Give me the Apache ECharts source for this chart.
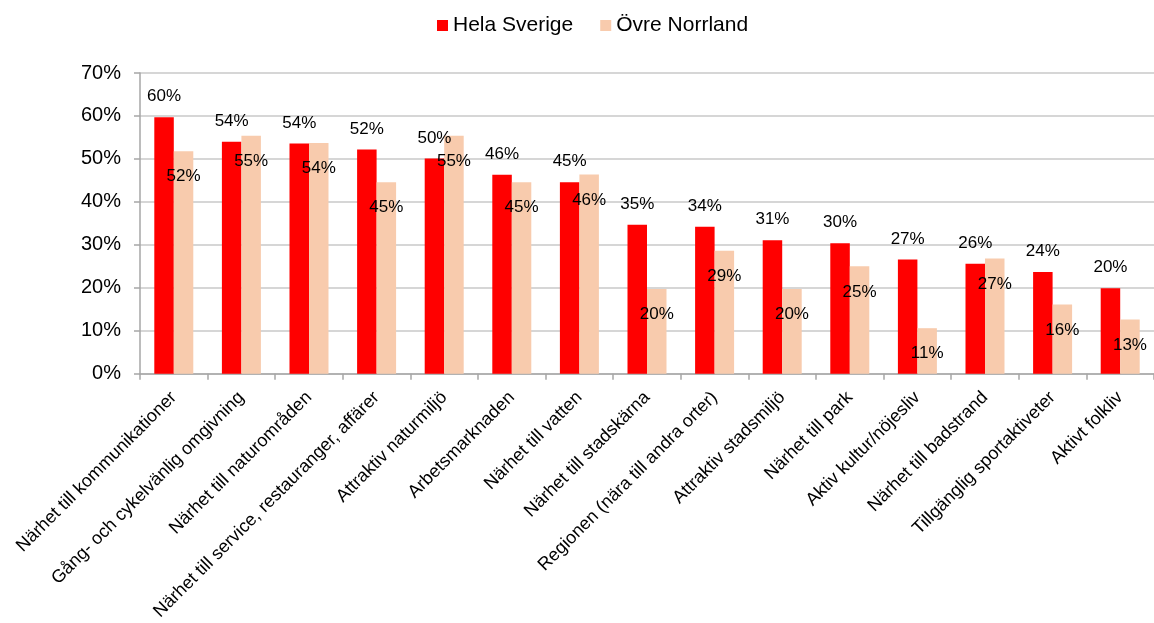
<!DOCTYPE html>
<html>
<head>
<meta charset="utf-8">
<script src="https://cdn.jsdelivr.net/npm/echarts@6/dist/echarts.min.js"></script>
<style>
html,body{margin:0;padding:0;background:#fff;}
#c{width:1154px;height:623px;}
</style>
</head>
<body>
<div id="c"></div>
<script>
var categories = [
  "Närhet till kommunikationer",
  "Gång- och cykelvänlig omgivning",
  "Närhet till naturområden",
  "Närhet till service, restauranger, affärer",
  "Attraktiv naturmiljö",
  "Arbetsmarknaden",
  "Närhet till vatten",
  "Närhet till stadskärna",
  "Regionen (nära till andra orter)",
  "Attraktiv stadsmiljö",
  "Närhet till park",
  "Aktiv kultur/nöjesliv",
  "Närhet till badstrand",
  "Tillgänglig sportaktiveter",
  "Aktivt folkliv"
];
var helaSverige = [59.7, 54.0, 53.6, 52.2, 50.1, 46.3, 44.6, 34.7, 34.2, 31.1, 30.4, 26.6, 25.6, 23.7, 19.9];
var ovreNorrland = [51.8, 55.4, 53.7, 44.6, 55.4, 44.6, 46.4, 19.7, 28.6, 19.7, 25.0, 10.6, 26.8, 16.1, 12.6];
var seriesNames = ["Hela Sverige", "Övre Norrland"];
var yTicks = [0, 10, 20, 30, 40, 50, 60, 70];

var FONT = "Liberation Sans, Arial, sans-serif";
var chart = echarts.init(document.getElementById('c'));
function pct(p){ return Math.round(p.value) + '%'; }
chart.setOption({
  animation: false,
  textStyle: {fontFamily: FONT},
  legend: {
    top: 10, left: 432,
    itemWidth: 11, itemHeight: 11, itemGap: 27,
    icon: 'rect',
    textStyle: {fontFamily: FONT, fontSize: 21, color: '#000'},
    data: seriesNames
  },
  grid: {left: 140, right: -6, top: 73, bottom: 247, containLabel: false},
  xAxis: {
    type: 'category',
    data: categories,
    axisLine: {show: true, lineStyle: {color: '#A6A6A6', width: 1.5}},
    axisTick: {show: true, alignWithLabel: false, length: 6, lineStyle: {color: '#A6A6A6', width: 1.5}},
    axisLabel: {interval: 0, rotate: 45, margin: 21, fontFamily: FONT, fontSize: 18, color: '#000'},
    splitLine: {show: false}
  },
  yAxis: {
    type: 'value',
    min: yTicks[0], max: yTicks[yTicks.length-1], interval: 10,
    axisLine: {show: true, lineStyle: {color: '#A6A6A6', width: 1.5}},
    axisTick: {show: true, length: 6, lineStyle: {color: '#A6A6A6', width: 1.5}},
    axisLabel: {margin: 19, fontFamily: FONT, fontSize: 20, color: '#000', formatter: function(v){return v + '%';}},
    splitLine: {show: true, lineStyle: {color: '#C8C8C8', width: 1.5}}
  },
  series: [
    {
      name: seriesNames[0], type: 'bar', data: helaSverige,
      barWidth: 19.5, barGap: '0%',
      itemStyle: {color: '#FF0000'},
      label: {show: true, position: 'top', distance: 12, formatter: pct, fontFamily: FONT, fontSize: 17, color: '#000'}
    },
    {
      name: seriesNames[1], type: 'bar', data: ovreNorrland,
      barWidth: 19.5, barGap: '0%',
      itemStyle: {color: '#F8CBAD'},
      label: {show: true, position: 'insideTop', distance: 17, formatter: pct, fontFamily: FONT, fontSize: 17, color: '#000'}
    }
  ]
});
</script>
</body>
</html>
